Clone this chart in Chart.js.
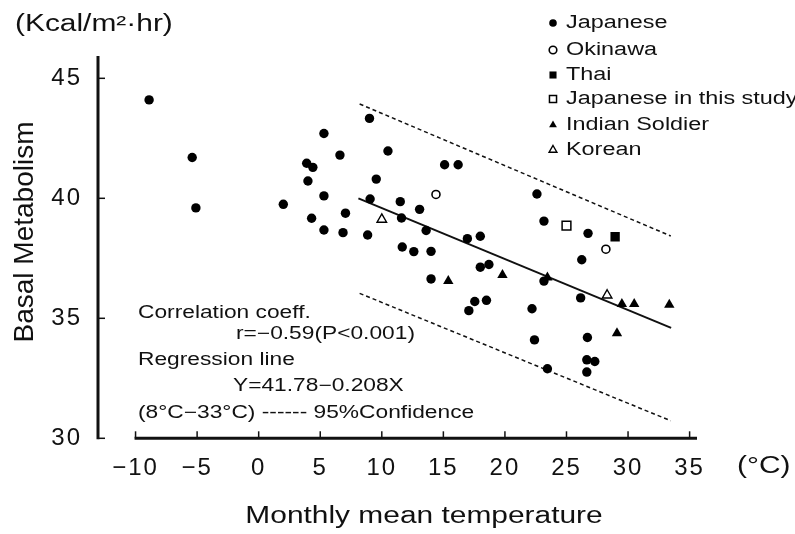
<!DOCTYPE html>
<html><head><meta charset="utf-8">
<script src="https://cdn.jsdelivr.net/npm/chart.js@4/dist/chart.umd.min.js"></script>
<style>html,body{margin:0;padding:0;background:#fff}canvas{display:block}</style>
</head><body>
<canvas id="c" width="795" height="534"></canvas>
<script>
// ---- data ----
const japanese = [[-8.9,44.1],[-5.4,41.7],[-5.1,39.6],[2.0,39.75],[3.9,41.46],[4.4,41.29],[4.0,40.72],[5.3,42.7],[6.6,41.8],[5.3,40.1],[4.3,39.17],[7.05,39.38],[5.3,38.68],[6.85,38.57],[8.85,38.47],[9.0,43.33],[10.5,41.97],[9.55,40.8],[9.05,39.97],[11.5,39.86],[11.6,39.18],[13.07,39.54],[15.1,41.4],[16.2,41.4],[13.6,38.66],[11.66,37.97],[12.6,37.78],[14.0,37.79],[14.0,36.64],[16.95,38.32],[18.0,38.42],[18.0,37.13],[18.7,37.24],[17.55,35.7],[18.5,35.75],[17.07,35.32],[22.6,40.18],[23.17,39.05],[26.75,38.54],[26.24,37.44],[23.17,36.55],[26.15,35.85],[22.2,35.4],[22.4,34.1],[26.7,34.2],[26.65,33.27],[27.3,33.2],[26.65,32.76],[23.45,32.9]];
const okinawa = [[14.4,40.16],[28.2,37.88]];
const thai = [[28.95,38.4]];
const japaneseThisStudy = [[25.0,38.86]];
const indianSoldier = [[15.4,36.55],[19.8,36.8],[23.45,36.7],[29.5,35.6],[30.5,35.6],[33.35,35.56],[29.1,34.38]];
const korean = [[10.0,39.12],[28.3,35.96]];
const regressionLine = [[8.1,40.0],[33.5,34.6]];
const upperConfidence = [[8.2,43.93],[33.47,38.43]];
const lowerConfidence = [[8.2,36.04],[33.47,30.73]];
const xTicks = [-10,-5,0,5,10,15,20,25,30,35];
const yTicks = [30,35,40,45];
const seriesNames = ['Japanese','Okinawa','Thai','Japanese in this study','Indian Soldier','Korean'];

const FONT = '"Liberation Sans", Arial, Helvetica, sans-serif';
const SX = 1.3;
const toXY = a => a.map(([x,y]) => ({x, y}));

function pts(label, data, style, fill, r, bw) {
  return {label, data: toXY(data), pointStyle: style, pointRadius: r, pointHoverRadius: r,
    backgroundColor: fill, borderColor: '#000', pointBorderWidth: bw, borderWidth: bw, showLine: false};
}
function line(data, dash, w) {
  return {type: 'line', data: toXY(data), showLine: true, pointRadius: 0, borderColor: '#111',
    borderWidth: w, borderDash: dash, fill: false, tension: 0};
}

const datasets = [
  pts(seriesNames[0], japanese, 'circle', '#000', 4.7, 0),
  pts(seriesNames[1], okinawa, 'circle', '#fff', 4, 1.6),
  pts(seriesNames[2], thai, 'rect', '#000', 6.6, 0),
  pts(seriesNames[3], japaneseThisStudy, 'rect', '#fff', 6.2, 1.5),
  pts(seriesNames[4], indianSoldier, 'triangle', '#000', 6, 0),
  pts(seriesNames[5], korean, 'triangle', '#fff', 5.5, 1.4),
  line(regressionLine, [], 2),
  line(upperConfidence, [4, 3], 1.5),
  line(lowerConfidence, [4, 3], 1.5)
];

function txt(ctx, s, x, y, size, align, rot, sx) {
  ctx.save();
  ctx.translate(x, y);
  if (rot) ctx.rotate(rot);
  ctx.scale(sx === undefined ? SX : sx, 1);
  ctx.font = size + 'px ' + FONT;
  ctx.textAlign = align || 'left';
  ctx.textBaseline = 'middle';
  ctx.fillStyle = '#111';
  ctx.fillText(s, 0, 0);
  ctx.restore();
}

const decor = {
  id: 'decor',
  beforeDraw(chart) { try { chart.ctx.letterSpacing = '2px'; } catch (e) {} },
  afterDraw(chart) {
    const ctx = chart.ctx;
    try { ctx.letterSpacing = '0px'; } catch (e) {}
    const xs = chart.scales.x, ys = chart.scales.y;
    const left = chart.chartArea.left, right = chart.chartArea.right;
    const y0 = ys.getPixelForValue(30);
    ctx.save();
    ctx.strokeStyle = '#111';
    ctx.lineCap = 'butt';
    ctx.lineWidth = 3;
    ctx.beginPath(); ctx.moveTo(left, ys.top); ctx.lineTo(left, y0 + 1); ctx.stroke();
    ctx.beginPath(); ctx.moveTo(xs.getPixelForValue(-10) - 1, y0); ctx.lineTo(right, y0); ctx.stroke();
    ctx.lineWidth = 1.5;
    yTicks.forEach(v => { const p = ys.getPixelForValue(v); ctx.beginPath(); ctx.moveTo(left, p); ctx.lineTo(left + 7, p); ctx.stroke(); });
    xTicks.forEach(v => { const p = xs.getPixelForValue(v); ctx.beginPath(); ctx.moveTo(p, y0); ctx.lineTo(p, y0 - 7); ctx.stroke(); });
    ctx.restore();

    txt(ctx, '(Kcal/m\u00B2\u00B7hr)', 15, 25, 23, 'left');
    txt(ctx, 'Basal Metabolism', 25, 232, 28, 'center', -Math.PI / 2, 1);
    txt(ctx, '(\u00B0C)', 737, 467, 23, 'left');
    txt(ctx, 'Monthly mean temperature', 424, 517, 23, 'center');

    const fs = 17.5;
    txt(ctx, 'Correlation coeff.', 138, 313, fs, 'left');
    txt(ctx, 'r=\u22120.59(P<0.001)', 236, 334, fs, 'left');
    txt(ctx, 'Regression line', 138, 360, fs, 'left');
    txt(ctx, 'Y=41.78\u22120.208X', 233, 386, fs, 'left');
    txt(ctx, '(8\u00B0C\u221233\u00B0C) ------ 95%Confidence', 138, 413, fs, 'left');

    const rows = [23, 50, 75, 99, 125, 150];
    chart.data.datasets.slice(0, 6).forEach((ds, i) => {
      ctx.save();
      ctx.fillStyle = ds.backgroundColor;
      ctx.strokeStyle = '#000';
      ctx.lineWidth = ds.pointBorderWidth;
      const r = ds.pointStyle === 'rect' ? 5 : (ds.pointStyle === 'triangle' ? 4.5 : 3.8);
      Chart.helpers.drawPoint(ctx, {pointStyle: ds.pointStyle, radius: r, borderWidth: ds.pointBorderWidth, rotation: 0}, 553, rows[i]);
      ctx.restore();
      txt(ctx, ds.label, 566, rows[i], 18, 'left');
    });
  }
};

new Chart(document.getElementById('c'), {
  type: 'scatter',
  data: {datasets},
  plugins: [decor],
  options: {
    responsive: false, animation: false, devicePixelRatio: 1,
    layout: {padding: {left: 0, top: 56, right: 98, bottom: 0}},
    plugins: {legend: {display: false}, tooltip: {enabled: false}},
    scales: {
      x: {
        type: 'linear', min: -13.05, max: 35.6,
        grid: {display: false, drawTicks: false}, border: {display: false},
        afterBuildTicks: s => { s.ticks = xTicks.map(v => ({value: v})); },
        afterFit: s => { s.height = 95.7; },
        ticks: {padding: 16, color: '#111', font: {family: FONT, size: 24},
          callback: v => v < 0 ? '\u2212' + Math.abs(v) : String(v)}
      },
      y: {
        type: 'linear', min: 30, max: 45.93,
        grid: {display: false, drawTicks: false}, border: {display: false},
        afterBuildTicks: s => { s.ticks = yTicks.map(v => ({value: v})); },
        afterFit: s => { s.width = 98; },
        ticks: {padding: 16, color: '#111', font: {family: FONT, size: 24}}
      }
    }
  }
});
</script>
</body></html>
